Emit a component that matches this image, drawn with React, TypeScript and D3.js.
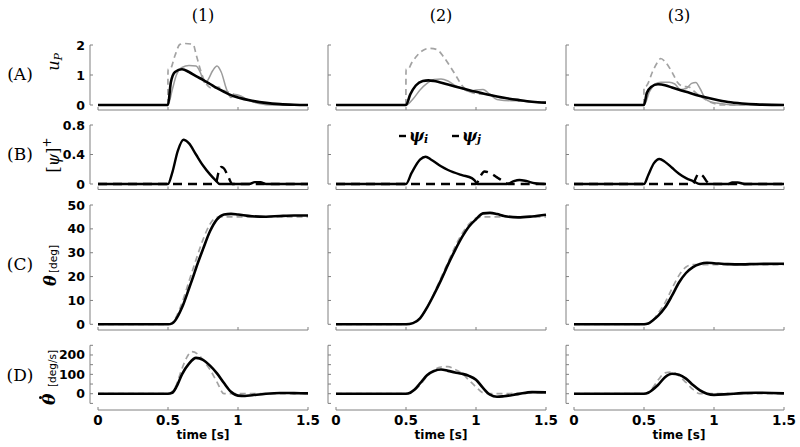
import React from 'react';
import * as d3 from 'd3';

type P = [number, number];

const timeTicks = [0, 0.5, 1, 1.5];
const columnTitles = ['(1)', '(2)', '(3)'];
const rowTitles = ['(A)', '(B)', '(C)', '(D)'];

// ---- Row A : u_P (black = model, gray solid, gray dashed) ----
const uBlack1: P[] = [[0,0],[0.5,0],[0.52,0.75],[0.55,1.1],[0.6,1.19],[0.65,1.1],[0.7,0.96],[0.75,0.84],[0.8,0.7],[0.85,0.56],[0.9,0.44],[0.95,0.33],[1.0,0.25],[1.1,0.14],[1.2,0.07],[1.3,0.03],[1.4,0.01],[1.5,0]];
const uDash1: P[] = [[0,0],[0.499,0],[0.5,1.2],[0.515,1.2],[0.55,1.65],[0.585,2.02],[0.62,2.05],[0.68,2.02],[0.7,1.7],[0.74,1.05],[0.77,0.72],[0.82,0.55],[0.86,0.6],[0.9,0.48],[0.95,0.4],[1.0,0.3],[1.05,0.2],[1.1,0.13],[1.2,0.06],[1.3,0.02],[1.5,0]];
const uGray1: P[] = [[0,0],[0.5,0],[0.53,0.5],[0.56,1.0],[0.6,1.25],[0.65,1.32],[0.7,1.3],[0.73,1.1],[0.76,0.75],[0.78,0.8],[0.82,1.15],[0.85,1.3],[0.88,1.1],[0.92,0.5],[0.95,0.25],[0.98,0.35],[1.02,0.3],[1.08,0.15],[1.15,0.05],[1.25,0],[1.5,0]];
const uBlack2: P[] = [[0,0],[0.5,0],[0.53,0.35],[0.57,0.65],[0.62,0.8],[0.66,0.82],[0.7,0.8],[0.8,0.68],[0.9,0.56],[1.0,0.44],[1.1,0.33],[1.2,0.24],[1.3,0.17],[1.4,0.11],[1.5,0.08]];
const uDash2: P[] = [[0,0],[0.499,0],[0.5,1.2],[0.515,1.2],[0.54,1.4],[0.58,1.65],[0.62,1.82],[0.67,1.89],[0.72,1.85],[0.77,1.6],[0.82,1.25],[0.86,0.95],[0.9,0.65],[0.94,0.48],[0.98,0.4],[1.03,0.36],[1.08,0.38],[1.13,0.3],[1.2,0.22],[1.3,0.15],[1.4,0.1],[1.5,0.08]];
const uGray2: P[] = [[0,0],[0.5,0],[0.55,0.2],[0.6,0.5],[0.65,0.72],[0.7,0.85],[0.75,0.87],[0.8,0.8],[0.85,0.65],[0.9,0.55],[0.95,0.45],[1.0,0.5],[1.05,0.52],[1.1,0.35],[1.15,0.18],[1.2,0.15],[1.3,0.14],[1.4,0.1],[1.5,0.07]];
const uBlack3: P[] = [[0,0],[0.5,0],[0.52,0.4],[0.55,0.6],[0.6,0.69],[0.65,0.66],[0.7,0.58],[0.8,0.44],[0.9,0.3],[1.0,0.19],[1.1,0.1],[1.2,0.05],[1.3,0.02],[1.5,0]];
const uDash3: P[] = [[0,0],[0.499,0],[0.5,0.6],[0.52,0.65],[0.56,1.1],[0.6,1.45],[0.62,1.55],[0.65,1.45],[0.7,1.1],[0.74,0.75],[0.78,0.62],[0.82,0.6],[0.86,0.45],[0.9,0.3],[0.95,0.15],[1.0,0.05],[1.05,0],[1.5,0]];
const uGray3: P[] = [[0,0],[0.5,0],[0.54,0.45],[0.58,0.7],[0.62,0.76],[0.68,0.76],[0.72,0.7],[0.76,0.52],[0.8,0.55],[0.84,0.72],[0.87,0.75],[0.9,0.55],[0.94,0.2],[0.98,0.1],[1.05,0.05],[1.15,0],[1.5,0]];

// ---- Row B : [psi]+ ----
const psiI1: P[] = [[0,0],[0.5,0],[0.53,0.15],[0.57,0.45],[0.61,0.6],[0.65,0.55],[0.7,0.4],[0.75,0.25],[0.8,0.13],[0.84,0.05],[0.87,0],[1.08,0],[1.12,0.025],[1.16,0.025],[1.2,0],[1.5,0]];
const psiJ1: P[] = [[0,0],[0.84,0],[0.86,0.15],[0.88,0.23],[0.9,0.21],[0.93,0.1],[0.96,0],[1.5,0]];
const psiI2: P[] = [[0,0],[0.5,0],[0.54,0.15],[0.6,0.33],[0.64,0.37],[0.68,0.33],[0.75,0.24],[0.8,0.19],[0.9,0.12],[0.97,0.08],[0.99,0.05],[1.01,0],[1.22,0],[1.27,0.04],[1.31,0.055],[1.36,0.04],[1.42,0.01],[1.5,0]];
const psiJ2: P[] = [[0,0],[1.0,0],[1.03,0.1],[1.06,0.17],[1.1,0.15],[1.15,0.09],[1.2,0.03],[1.23,0],[1.5,0]];
const psiI3: P[] = [[0,0],[0.5,0],[0.53,0.12],[0.57,0.28],[0.61,0.34],[0.65,0.3],[0.7,0.22],[0.75,0.14],[0.8,0.08],[0.85,0.04],[0.9,0],[1.1,0],[1.13,0.02],[1.17,0.02],[1.22,0],[1.5,0]];
const psiJ3: P[] = [[0,0],[0.85,0],[0.87,0.08],[0.89,0.14],[0.92,0.11],[0.95,0.03],[0.97,0],[1.5,0]];

// ---- Row C : theta [deg] ----
const thBlack1: P[] = [[0,0],[0.5,0],[0.53,0.4],[0.55,1.5],[0.6,7],[0.65,15],[0.68,20],[0.7,23.5],[0.75,31.5],[0.8,39],[0.85,44],[0.9,46],[0.95,46.3],[1.0,46],[1.1,45.3],[1.2,45.1],[1.3,45.4],[1.4,45.6],[1.5,45.6]];
const thDash1: P[] = [[0,0],[0.5,0],[0.53,0.6],[0.55,2.2],[0.6,9],[0.65,18],[0.7,27],[0.75,35.5],[0.8,42],[0.85,44.8],[0.9,45],[1.5,45]];
const thBlack2: P[] = [[0,0],[0.5,0],[0.55,0.5],[0.6,2.5],[0.65,7],[0.7,12.5],[0.75,18.5],[0.8,25],[0.85,31],[0.9,36.5],[0.95,41],[1.0,44],[1.05,46.5],[1.1,46.7],[1.15,46.2],[1.2,45.4],[1.3,44.8],[1.4,45.2],[1.5,45.9]];
const thDash2: P[] = [[0,0],[0.5,0],[0.55,0.5],[0.6,2.5],[0.65,7],[0.7,13],[0.75,19.5],[0.8,26],[0.85,32.5],[0.9,38],[0.95,42],[1.0,44.5],[1.05,45],[1.5,45]];
const thBlack3: P[] = [[0,0],[0.5,0],[0.53,0.3],[0.56,1.5],[0.6,3.5],[0.65,7],[0.7,12],[0.75,17.5],[0.8,21.5],[0.85,24],[0.9,25.3],[0.95,25.8],[1.0,25.6],[1.1,25.2],[1.2,25.1],[1.3,25.3],[1.5,25.4]];
const thDash3: P[] = [[0,0],[0.5,0],[0.53,0.3],[0.56,1.5],[0.6,4.5],[0.65,9],[0.7,15],[0.75,20.5],[0.8,24],[0.85,25],[1.5,25]];

// ---- Row D : theta dot [deg/s] ----
const vBlack1: P[] = [[0,0],[0.5,0],[0.53,5],[0.56,35],[0.6,100],[0.65,155],[0.7,185],[0.75,175],[0.8,145],[0.85,105],[0.9,55],[0.95,10],[1.0,-10],[1.05,-12],[1.1,-8],[1.2,0],[1.3,4],[1.4,3],[1.5,2]];
const vDash1: P[] = [[0,0],[0.5,0],[0.55,30],[0.6,130],[0.64,195],[0.67,217],[0.72,200],[0.76,165],[0.8,125],[0.85,60],[0.9,0],[1.5,0]];
const vBlack2: P[] = [[0,0],[0.5,0],[0.53,5],[0.56,20],[0.6,53],[0.65,95],[0.7,117],[0.75,125],[0.8,118],[0.85,110],[0.9,103],[0.95,92],[1.0,72],[1.05,30],[1.1,-5],[1.15,-16],[1.2,-13],[1.3,-2],[1.4,8],[1.5,7]];
const vDash2: P[] = [[0,0],[0.5,0],[0.55,12],[0.6,45],[0.65,90],[0.7,122],[0.75,138],[0.8,140],[0.85,125],[0.9,105],[0.95,70],[1.0,35],[1.05,5],[1.1,0],[1.2,0],[1.3,3],[1.4,5],[1.5,5]];
const vBlack3: P[] = [[0,0],[0.5,0],[0.53,5],[0.56,20],[0.6,45],[0.65,85],[0.7,103],[0.75,98],[0.8,78],[0.85,45],[0.9,17],[0.95,0],[1.0,-6],[1.1,-2],[1.2,3],[1.3,5],[1.5,2]];
const vDash3: P[] = [[0,0],[0.5,0],[0.55,20],[0.6,70],[0.65,108],[0.7,112],[0.75,92],[0.8,58],[0.85,22],[0.9,0],[1.5,0]];

// y ticks per row
const yTicksA = [0, 1, 2];
const yTicksB = [0, 0.4, 0.8];
const yTicksC = [0, 10, 20, 30, 40, 50];
const yTicksD = [-50, 0, 50, 100, 150, 200, 250];
const yLabelsD = [0, 100, 200];

const colX0 = [98, 336, 574];
const PLOT_W = 210;

type Series = { data: P[]; kind: 'black' | 'gray' | 'grayDash' | 'psiSolid' | 'psiDash' };

const rows = [
  { domain: [0, 2], range: [105, 45], axisY: 110, ticks: yTicksA, labels: yTicksA,
    series: [
      [{ data: uDash1, kind: 'grayDash' }, { data: uGray1, kind: 'gray' }, { data: uBlack1, kind: 'black' }],
      [{ data: uDash2, kind: 'grayDash' }, { data: uGray2, kind: 'gray' }, { data: uBlack2, kind: 'black' }],
      [{ data: uDash3, kind: 'grayDash' }, { data: uGray3, kind: 'gray' }, { data: uBlack3, kind: 'black' }],
    ] as Series[][] },
  { domain: [0, 0.8], range: [184, 125], axisY: 189.5, ticks: yTicksB, labels: yTicksB,
    series: [
      [{ data: psiJ1, kind: 'psiDash' }, { data: psiI1, kind: 'psiSolid' }],
      [{ data: psiJ2, kind: 'psiDash' }, { data: psiI2, kind: 'psiSolid' }],
      [{ data: psiJ3, kind: 'psiDash' }, { data: psiI3, kind: 'psiSolid' }],
    ] as Series[][] },
  { domain: [0, 50], range: [324.3, 205], axisY: 330, ticks: yTicksC, labels: yTicksC,
    series: [
      [{ data: thDash1, kind: 'grayDash' }, { data: thBlack1, kind: 'black' }],
      [{ data: thDash2, kind: 'grayDash' }, { data: thBlack2, kind: 'black' }],
      [{ data: thDash3, kind: 'grayDash' }, { data: thBlack3, kind: 'black' }],
    ] as Series[][] },
  { domain: [-50, 250], range: [403.4, 345.3], axisY: 410, ticks: yTicksD, labels: yLabelsD,
    series: [
      [{ data: vDash1, kind: 'grayDash' }, { data: vBlack1, kind: 'black' }],
      [{ data: vDash2, kind: 'grayDash' }, { data: vBlack2, kind: 'black' }],
      [{ data: vDash3, kind: 'grayDash' }, { data: vBlack3, kind: 'black' }],
    ] as Series[][] },
];

const styleFor = (k: Series['kind']) => {
  switch (k) {
    case 'black': return { stroke: '#000', strokeWidth: 2.6 };
    case 'gray': return { stroke: '#9c9c9c', strokeWidth: 1.5 };
    case 'grayDash': return { stroke: '#a3a3a3', strokeWidth: 1.7, strokeDasharray: '6,4' };
    case 'psiSolid': return { stroke: '#000', strokeWidth: 2.4 };
    case 'psiDash': return { stroke: '#000', strokeWidth: 2.4, strokeDasharray: '9,6' };
  }
};

const AXIS = '#808080';
const TICKFONT = 'DejaVu Sans';
const SERIF = 'DejaVu Serif';

export default function App() {
  const rowLabelY = [74, 154, 264, 375];
  return (
    <svg width={800} height={447} style={{ position: 'absolute', left: 0, top: 0, background: '#fff' }}>
      {columnTitles.map((t, i) => (
        <text key={t} x={colX0[i] + PLOT_W / 2} y={21} textAnchor="middle" fontFamily={SERIF} fontSize={16}>{t}</text>
      ))}
      {rowTitles.map((t, i) => (
        <text key={t} x={20} y={rowLabelY[i] + 6} textAnchor="middle" fontFamily={SERIF} fontSize={17}>{t}</text>
      ))}
      {/* y-axis titles */}
      <text transform="translate(59,62) rotate(-90)" textAnchor="middle" fontFamily={SERIF} fontStyle="italic" fontSize={16}>
        u<tspan fontSize={11} dy={3}>P</tspan>
      </text>
      <text transform="translate(59,155) rotate(-90)" textAnchor="middle" fontFamily={SERIF} fontSize={16}>
        [<tspan fontStyle="italic">ψ</tspan>]<tspan fontSize={12} dy={-8}>+</tspan>
      </text>
      <g transform="translate(56,265) rotate(-90)">
        <text x={-21} y={0} fontFamily={SERIF} fontStyle="italic" fontWeight="bold" fontSize={16}>θ</text>
        <text x={-8} y={1} fontFamily={TICKFONT} fontSize={10.5}>[deg]</text>
      </g>
      <g transform="translate(55,376) rotate(-90)">
        <text x={-29} y={0} fontFamily={SERIF} fontStyle="italic" fontWeight="bold" fontSize={17}>θ</text>
        <circle cx={-21.5} cy={-14.5} r={1.5} fill="#000" />
        <text x={-11} y={1} fontFamily={TICKFONT} fontSize={10.5}>[deg/s]</text>
      </g>

      {rows.map((row, ri) => colX0.map((x0, ci) => {
        const x = d3.scaleLinear().domain([0, 1.5]).range([x0, x0 + PLOT_W]);
        const y = d3.scaleLinear().domain(row.domain).range(row.range);
        const line = d3.line<P>().x(d => x(d[0])).y(d => y(d[1])).curve(d3.curveMonotoneX);
        const ax = x0 - 8;
        return (
          <g key={`${ri}-${ci}`}>
            {/* y axis */}
            <line x1={ax} x2={ax} y1={y(row.domain[0])} y2={y(row.domain[1])} stroke={AXIS} strokeWidth={1} />
            {row.ticks.map(t => (
              <line key={t} x1={ax} x2={ax + 3} y1={y(t)} y2={y(t)} stroke={AXIS} strokeWidth={1} />
            ))}
            {ci === 0 && row.labels.map(t => (
              <text key={t} x={ax - 5} y={y(t)} dy="0.36em" textAnchor="end" fontFamily={TICKFONT} fontWeight="bold" fontSize={12.5}>{String(t)}</text>
            ))}
            {/* x axis */}
            <line x1={x(0)} x2={x(1.5)} y1={row.axisY} y2={row.axisY} stroke={AXIS} strokeWidth={1} />
            {timeTicks.map(t => (
              <line key={t} x1={x(t)} x2={x(t)} y1={row.axisY} y2={row.axisY - 3} stroke={AXIS} strokeWidth={1} />
            ))}
            {ri === 3 && timeTicks.map(t => (
              <text key={t} x={x(t)} y={425} textAnchor="middle" fontFamily={TICKFONT} fontWeight="bold" fontSize={13.5}>{String(t)}</text>
            ))}
            {ri === 3 && (
              <text x={x(0.75)} y={439} textAnchor="middle" fontFamily={TICKFONT} fontWeight="bold" fontSize={12}>time [s]</text>
            )}
            {row.series[ci].map((s, si) => (
              <path key={si} d={line(s.data) || ''} fill="none" strokeLinejoin="round" {...styleFor(s.kind)} />
            ))}
          </g>
        );
      }))}

      {/* legend in panel B2 */}
      <line x1={399} x2={406} y1={136} y2={136} stroke="#000" strokeWidth={2.4} />
      <text x={409} y={141} fontFamily={SERIF} fontStyle="italic" fontWeight="bold" fontSize={16}>ψ<tspan fontSize={11} dy={2}>i</tspan></text>
      <line x1={452} x2={459} y1={136} y2={136} stroke="#000" strokeWidth={2.4} />
      <text x={462} y={141} fontFamily={SERIF} fontStyle="italic" fontWeight="bold" fontSize={16}>ψ<tspan fontSize={11} dy={2}>j</tspan></text>
    </svg>
  );
}
